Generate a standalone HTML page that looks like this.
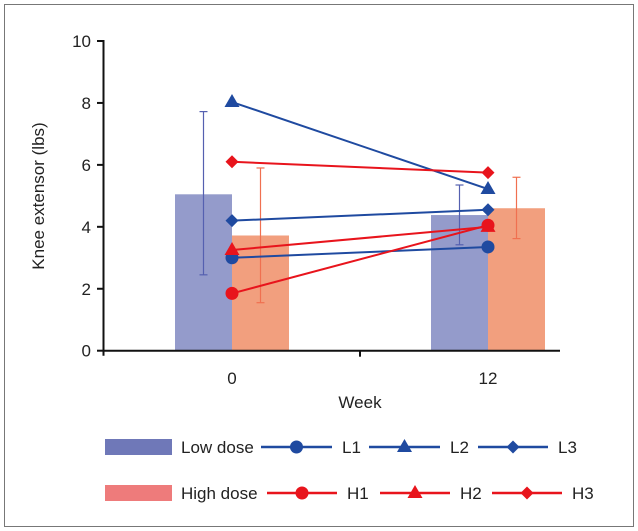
<!DOCTYPE html>
<html><head><meta charset="utf-8"><style>
html,body{margin:0;padding:0;background:#fff;}
svg{display:block;font-family:"Liberation Sans",sans-serif;}
</style></head><body>
<svg id="c" width="638" height="531" viewBox="0 0 638 531">
<rect x="4.5" y="4.5" width="629" height="522" fill="#fff" stroke="#777" stroke-width="1"/>
<g id="plot"></g>
</svg>
<script>
const weeks = ["0","12"];
const lowMean = [5.05, 4.38];
const lowErrLo = [2.45, 3.42];
const lowErrHi = [7.72, 5.35];
const highMean = [3.72, 4.6];
const highErrLo = [1.55, 3.62];
const highErrHi = [5.9, 5.6];
const L1 = [3.0, 3.35];
const L2 = [8.03, 5.22];
const L3 = [4.2, 4.55];
const H1 = [1.85, 4.05];
const H2 = [3.25, 4.0];
const H3 = [6.1, 5.75];
const yTicks = [0,2,4,6,8,10];

const NS="http://www.w3.org/2000/svg";
const g=document.getElementById('plot');
function el(t,a,p){const e=document.createElementNS(NS,t);for(const k in a)e.setAttribute(k,a[k]);(p||g).appendChild(e);return e;}
const y0=350.7, yPer=30.97;
const Y=v=>y0-v*yPer;
const X=i=>232+i*256;
const BW=57;
const BLUE="#1f4aa0", RED="#e8141c";

// bars
weeks.forEach((w,i)=>{
  let b=el('rect',{x:X(i)-BW,y:Y(lowMean[i]),width:BW,height:y0-Y(lowMean[i]),fill:"#949bcb"});
  
  
  b=el('rect',{x:X(i),y:Y(highMean[i]),width:BW,height:y0-Y(highMean[i]),fill:"#f29f7e"});
  
  
});
// error bars
function err(x,lo,hi,col,name){
  const gg=el('g',{stroke:col,'stroke-width':1.2});
  
  
  el('line',{x1:x,x2:x,y1:Y(lo),y2:Y(hi)},gg);
  el('line',{x1:x-4,x2:x+4,y1:Y(lo),y2:Y(lo)},gg);
  el('line',{x1:x-4,x2:x+4,y1:Y(hi),y2:Y(hi)},gg);
}
weeks.forEach((w,i)=>{
  err(X(i)-BW/2,lowErrLo[i],lowErrHi[i],"#5560b0",'error-bar-low-week-'+w);
  err(X(i)+BW/2,highErrLo[i],highErrHi[i],"#f07050",'error-bar-high-week-'+w);
});
// axes
const ax=el('g',{stroke:"#111",'stroke-width':2});


el('line',{x1:103.5,x2:103.5,y1:Y(10)-1,y2:y0+5},ax);
el('line',{x1:103,x2:560,y1:y0,y2:y0},ax);
el('line',{x1:360,x2:360,y1:y0,y2:y0+6},ax);
yTicks.forEach(v=>{
  el('line',{x1:97,x2:103.5,y1:Y(v),y2:Y(v)},ax);
  const t=el('text',{x:91,y:Y(v)+6,'text-anchor':'end','font-size':17,fill:"#222"});
  t.textContent=v;
  
  
});
weeks.forEach((w,i)=>{
  const t=el('text',{x:X(i),y:384,'text-anchor':'middle','font-size':17,fill:"#222"});
  t.textContent=w;
  
  
});
let t=el('text',{x:360,y:408,'text-anchor':'middle','font-size':17,fill:"#222"});
t.textContent="Week";


t=el('text',{x:0,y:0,'text-anchor':'middle','font-size':17,fill:"#222",transform:"translate(44,196) rotate(-90)"});
t.textContent="Knee extensor (lbs)";



function marker(type,x,y,col,parent){
  if(type==='c') el('circle',{cx:x,cy:y,r:6.5,fill:col},parent);
  else if(type==='t') el('polygon',{points:`${x},${y-8} ${x+7.5},${y+5} ${x-7.5},${y+5}`,fill:col},parent);
  else el('polygon',{points:`${x},${y-6.5} ${x+6.5},${y} ${x},${y+6.5} ${x-6.5},${y}`,fill:col},parent);
}
const series=[["L1",L1,BLUE,'c'],["L2",L2,BLUE,'t'],["L3",L3,BLUE,'d'],["H1",H1,RED,'c'],["H2",H2,RED,'t'],["H3",H3,RED,'d']];
series.forEach(([n,d,col,m])=>{
  const gg=el('g',{});
  
  
  el('polyline',{points:d.map((v,i)=>X(i)+','+Y(v)).join(' '),fill:'none',stroke:col,'stroke-width':2},gg);
  d.forEach((v,i)=>marker(m,X(i),Y(v),col,gg));
});
// legend
function legBox(y,col,label,name){
  const gg=el('g',{});
  
  
  el('rect',{x:105,y:y-8,width:67,height:16,fill:col},gg);
  const tt=el('text',{x:181,y:y+6,'font-size':17,fill:"#222"},gg);tt.textContent=label;
}
legBox(447,"#6f78b8","Low dose",'legend-low-dose');
legBox(493,"#ee7b7b","High dose",'legend-high-dose');
function legLine(x1,x2,y,col,m,label,name){
  const gg=el('g',{});
  
  
  el('line',{x1:x1,x2:x2,y1:y,y2:y,stroke:col,'stroke-width':2.5},gg);
  marker(m,(x1+x2)/2,y,col,gg);
  const tt=el('text',{x:x2+10,y:y+6,'font-size':17,fill:"#222"},gg);tt.textContent=label;
}
legLine(261,332,447,BLUE,'c',"L1",'legend-l1');
legLine(369,440,447,BLUE,'t',"L2",'legend-l2');
legLine(478,548,447,BLUE,'d',"L3",'legend-l3');
legLine(267,337,493,RED,'c',"H1",'legend-h1');
legLine(380,450,493,RED,'t',"H2",'legend-h2');
legLine(492,562,493,RED,'d',"H3",'legend-h3');
</script>
</body></html>
